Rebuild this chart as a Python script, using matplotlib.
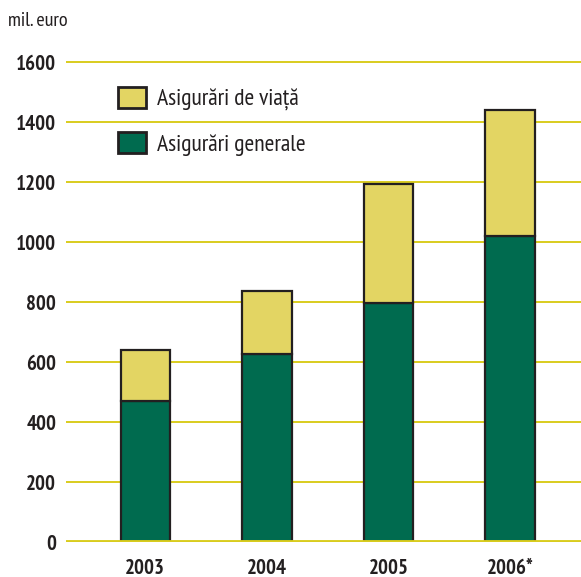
import matplotlib.pyplot as plt
from matplotlib.patches import Patch

years = ["2003", "2004", "2005", "2006*"]
general = [472, 628, 797, 1021]
life = [170, 210, 397, 420]

green = "#006b4f"
yellow = "#e3d563"
grid_color = "#d9cc1e"
ink = "#231f20"

plt.rcParams["font.family"] = ["PT Sans Narrow", "Liberation Sans Narrow", "DejaVu Sans"]

fig = plt.figure(figsize=(5.81, 5.77), dpi=100)
ax = fig.add_axes([66 / 581, 1 - 542.3 / 577, 1 - 66 / 581, 486 / 577])

x = range(len(years))
ax.bar(x, general, width=0.405, color=green, edgecolor=ink, linewidth=1.6, zorder=3)
ax.bar(x, life, width=0.405, bottom=general, color=yellow, edgecolor=ink,
       linewidth=1.6, zorder=3)

ax.set_xlim(-0.652, 3.583)
ax.set_ylim(0, 1620)
ax.set_yticks(range(0, 1601, 200))
ax.set_xticks(list(x))
ax.set_xticklabels(years)

for v in range(200, 1601, 200):
    ax.axhline(v, color=grid_color, linewidth=1.4, zorder=1)
ax.axhline(0, color=grid_color, linewidth=3.5, zorder=4)

for spine in ax.spines.values():
    spine.set_visible(False)
ax.tick_params(axis="both", length=0, labelsize=15, colors=ink)
ax.tick_params(axis="y", pad=7)
ax.tick_params(axis="x", pad=12)
for lbl in ax.get_xticklabels() + ax.get_yticklabels():
    lbl.set_fontweight("bold")

fig.text(8 / 581, 1 - 21 / 577, "mil. euro", fontsize=14.5, color=ink,
         va="center", ha="left")

handles = [
    Patch(facecolor=yellow, edgecolor=ink, linewidth=2, label="Asigurări de viață"),
    Patch(facecolor=green, edgecolor=ink, linewidth=2, label="Asigurări generale"),
]
ax.legend(handles=handles, loc="upper left", frameon=False, fontsize=17,
          bbox_to_anchor=(118 / 581, 1 - 87 / 577), bbox_transform=fig.transFigure,
          borderpad=0, borderaxespad=0, handlelength=1.2, handleheight=1.0,
          handletextpad=0.45, labelspacing=0.9, labelcolor=ink)

fig.savefig("out.png", dpi=100)
